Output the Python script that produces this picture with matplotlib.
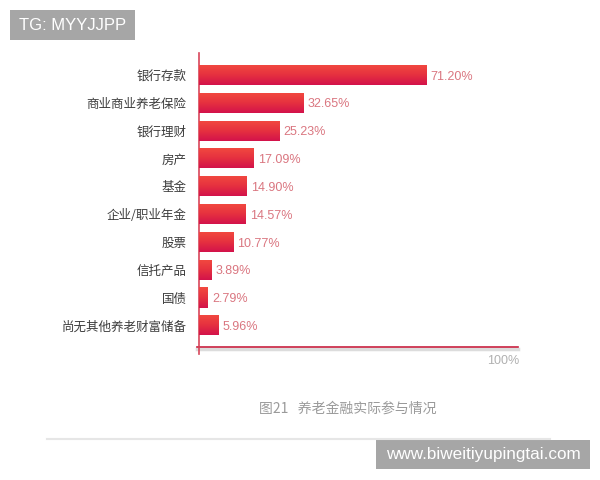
import matplotlib
matplotlib.use("Agg")
import matplotlib.pyplot as plt
import numpy as np
from matplotlib.colors import LinearSegmentedColormap
from matplotlib.patches import Rectangle

plt.rcParams['font.family'] = ['Noto Sans CJK SC', 'DejaVu Sans']

categories = ["银行存款", "商业商业养老保险", "银行理财", "房产", "基金",
              "企业/职业年金", "股票", "信托产品", "国债", "尚无其他养老财富储备"]
values = [71.20, 32.65, 25.23, 17.09, 14.90, 14.57, 10.77, 3.89, 2.79, 5.96]
value_labels = ["71.20%", "32.65%", "25.23%", "17.09%", "14.90%",
                "14.57%", "10.77%", "3.89%", "2.79%", "5.96%"]
xmax_label = "100%"
caption = "图21   养老金融实际参与情况"

fig = plt.figure(figsize=(6, 4.8), dpi=100)
W, H = 600, 480
ax = fig.add_axes([199 / W, 1 - 347 / H, 319 / W, (347 - 53) / H])

ypos = np.arange(len(categories))
bars = ax.barh(ypos, values, height=0.72, color="#e02a45", edgecolor="none", zorder=2)

cmap = LinearSegmentedColormap.from_list("g", ["#f24a40", "#e6323f", "#d3124b"])
grad = np.linspace(0, 1, 64).reshape(-1, 1)
for b in bars:
    x0, y0 = b.get_x(), b.get_y()
    w, h = b.get_width(), b.get_height()
    im = ax.imshow(grad, cmap=cmap, aspect="auto",
                   extent=(x0, x0 + w, y0 + h, y0), zorder=3, interpolation="bilinear")
    im.set_clip_path(b)
ax.set_xlim(0, 100)
ax.set_ylim(9.78, -0.79)

for y, v, lab in zip(ypos, values, value_labels):
    ax.text(v + 1.3, y + 0.06, lab, va="center", ha="left", fontsize=9,
            color="#da7680", family=["Liberation Sans"])

ax.set_yticks(ypos)
ax.set_yticklabels(categories, fontsize=9, color="#3c3c3c")
ax.tick_params(axis="y", length=0, pad=9)
ax.set_xticks([])
for s in ["top", "right"]:
    ax.spines[s].set_visible(False)
ax.spines["left"].set_color("#d8465a")
ax.spines["left"].set_linewidth(1.2)
ax.spines["bottom"].set_visible(False)

# bottom axis line with shadow
fig.add_artist(plt.Line2D([197 / W, 518 / W], [1 - 349 / H] * 2, color="#dcdcdc", lw=2.5))
fig.add_artist(plt.Line2D([197 / W, 518 / W], [1 - 347 / H] * 2, color="#c8203f", lw=1.2))
fig.add_artist(plt.Line2D([199 / W, 199 / W], [1 - 354 / H, 1 - 347 / H], color="#d8465a", lw=1.2))

fig.text(519 / W, 1 - 361 / H, xmax_label, ha="right", va="center", fontsize=9,
         color="#b0b0b0", family=["Liberation Sans"])
fig.text(348 / W, 1 - 409 / H, caption, ha="center", va="center", fontsize=10, color="#9a9a9a")

fig.add_artist(plt.Line2D([47 / W, 550 / W], [1 - 438.5 / H] * 2, color="#e6e6e6", lw=1.5))

fig.add_artist(Rectangle((10 / W, 1 - 40 / H), 125 / W, 30 / H, transform=fig.transFigure,
                         fc="#a6a6a6", ec="none"))
fig.text(72.5 / W, 1 - 25 / H, "TG: MYYJJPP", ha="center", va="center", fontsize=12,
         color="white", family=["Liberation Sans"])
fig.add_artist(Rectangle((376 / W, 1 - 469 / H), 214 / W, 29 / H, transform=fig.transFigure,
                         fc="#a6a6a6", ec="none"))
fig.text(483 / W, 1 - 455 / H, "www.biweitiyupingtai.com", ha="center", va="center",
         fontsize=12.3, color="white", family=["Liberation Sans"])

fig.savefig("out.png", dpi=100)
